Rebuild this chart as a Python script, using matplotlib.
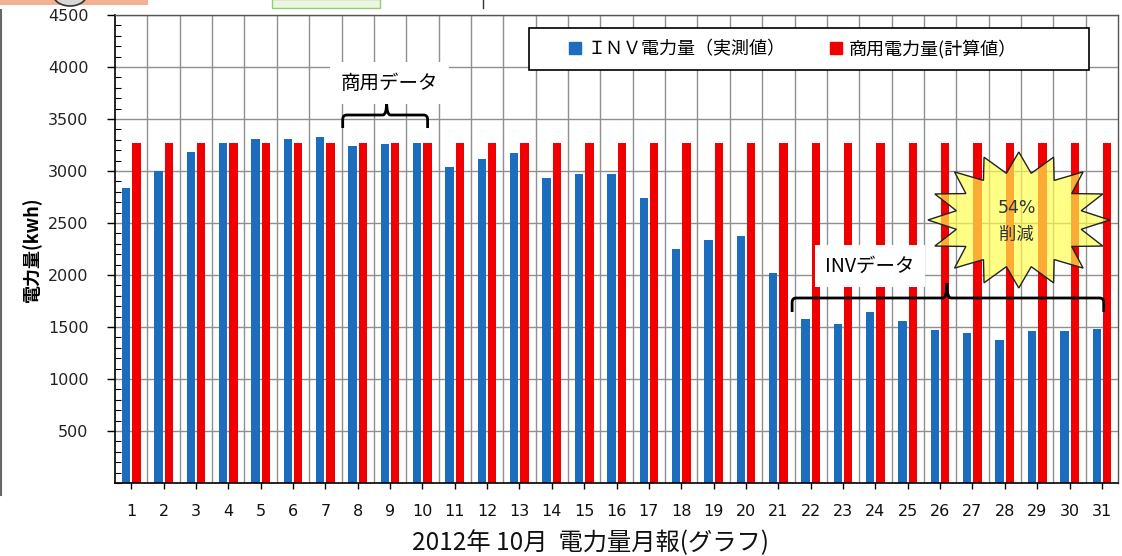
import numpy as np
import matplotlib
matplotlib.use("Agg")
import matplotlib.pyplot as plt
from matplotlib.patches import Rectangle, Polygon, PathPatch, Ellipse
from matplotlib.path import Path
from matplotlib.lines import Line2D
from matplotlib.ticker import MultipleLocator

plt.rcParams['font.family'] = ['DejaVu Sans', 'Noto Sans CJK JP']

# ---- data -------------------------------------------------------------
days = list(range(1, 32))
inv_kwh = [2840, 3000, 3185, 3265, 3305, 3305, 3325, 3245, 3255, 3265,
           3040, 3120, 3170, 2930, 2970, 2970, 2745, 2250, 2335, 2375,
           2020, 1575, 1530, 1640, 1560, 1470, 1440, 1375, 1460, 1460, 1480]
grid_kwh = [3270] * 31
y_ticks = [500, 1000, 1500, 2000, 2500, 3000, 3500, 4000, 4500]

series_labels = ["ＩＮＶ電力量（実測値）", "商用電力量(計算値）"]
title = "2012年 10月  電力量月報(グラフ)"
y_label = "電力量(kwh)"
label_grid = "商用データ"
label_inv = "INVデータ"
cut_pct = "54%"
cut_word = "削減"

BLUE = "#1c6dbd"
RED = "#f00000"
CJK = ['Noto Sans CJK JP', 'DejaVu Sans']
NARROW = ['Liberation Sans Narrow', 'DejaVu Sans']

fig = plt.figure(figsize=(11.22, 5.56), dpi=100)
ax = fig.add_axes([0.1025, 0.1313, 0.894, 0.8417])

x = np.array(days, dtype=float)
ax.bar(x - 0.16, inv_kwh, width=0.26, color=BLUE, zorder=2)
ax.bar(x + 0.16, grid_kwh, width=0.26, color=RED, zorder=2)

ax.set_xlim(0.5, 31.5)
ax.set_ylim(0, 4500)

# ticks
ax.set_xticks(days)
ax.set_xticklabels([str(d) for d in days], fontsize=11.5, family=NARROW,
                   color='#111111')
ax.set_xticks(np.arange(1.5, 31.0, 1.0), minor=True)
ax.tick_params(axis='x', which='major', direction='out', length=4, width=1,
               pad=11, color='black')
ax.tick_params(axis='x', which='minor', length=0)

ax.set_yticks(y_ticks)
ax.set_yticklabels([str(v) for v in y_ticks], fontsize=11.5, color='#222222')
ax.yaxis.set_minor_locator(MultipleLocator(100))
ax.tick_params(axis='y', which='major', direction='out', length=6, width=1,
               pad=13)
ax.tick_params(axis='y', which='minor', direction='in', length=4, width=0.8)

# grid
ax.set_axisbelow(True)
ax.yaxis.grid(True, which='major', color='#8f8f8f', lw=1.0)
ax.xaxis.grid(True, which='minor', color='#8f8f8f', lw=1.0)

for side in ('left', 'bottom'):
    ax.spines[side].set_color('black')
    ax.spines[side].set_linewidth(1.2)
for side in ('top', 'right'):
    ax.spines[side].set_color('#555555')
    ax.spines[side].set_linewidth(1.0)

ax.set_ylabel(y_label, fontsize=13, fontweight='bold', family=CJK)
ax.yaxis.set_label_coords(-0.0727, 0.5)

fig.text(590 / 1122, 1 - 543 / 556, title, fontsize=17.5, family=CJK,
         ha='center', va='center', color='#111111')

# legend with boxed frame
ax.add_patch(Rectangle((0.413, 0.8825), 0.558, 0.09, transform=ax.transAxes,
                       facecolor='white', edgecolor='black', lw=1.2, zorder=4))
handles = [Line2D([], [], marker='s', color=BLUE, linestyle='None', markersize=8),
           Line2D([], [], marker='s', color=RED, linestyle='None', markersize=8)]
leg = ax.legend(handles, series_labels, loc='center left',
                bbox_to_anchor=(0.451, 0.927), ncol=2, frameon=False,
                borderaxespad=0, borderpad=0, handlelength=0.8,
                handletextpad=0.3, columnspacing=2.4,
                prop={'family': CJK, 'size': 13})
leg.set_zorder(5)


def px_to_x(px):
    return (px - 115) / 32.4 + 0.5


def py_to_y(py):
    return (483 - py) / 0.104


def brace(x0, x1, xm, y_h, y_end, y_peak, rx=0.12, ry=45):
    verts = [(x0, y_end), (x0, y_h - ry), (x0, y_h), (x0 + rx, y_h),
             (xm - rx, y_h), (xm, y_h), (xm, y_peak),
             (xm, y_h), (xm + rx, y_h),
             (x1 - rx, y_h), (x1, y_h), (x1, y_h - ry), (x1, y_end)]
    codes = [Path.MOVETO, Path.LINETO, Path.CURVE3, Path.CURVE3,
             Path.LINETO, Path.CURVE3, Path.CURVE3,
             Path.CURVE3, Path.CURVE3,
             Path.LINETO, Path.CURVE3, Path.CURVE3, Path.LINETO]
    ax.add_patch(PathPatch(Path(verts, codes), facecolor='none',
                           edgecolor='black', lw=2.0, zorder=6))


# bracket over the grid-power days
brace(px_to_x(343), px_to_x(428), px_to_x(387),
      py_to_y(115), py_to_y(128), py_to_y(102))
ax.text(px_to_x(390), py_to_y(83), label_grid, fontsize=14, family=CJK,
        ha='center', va='center', zorder=6,
        bbox=dict(boxstyle='square,pad=0.55', facecolor='white',
                  edgecolor='none'))

# bracket over the inverter days
brace(px_to_x(793), px_to_x(1105), px_to_x(948),
      py_to_y(298), py_to_y(312), py_to_y(283))
ax.text(px_to_x(871), py_to_y(266), label_inv, fontsize=14, family=CJK,
        ha='center', va='center', zorder=6,
        bbox=dict(boxstyle='square,pad=0.55', facecolor='white',
                  edgecolor='none'))

# starburst callout
cx, cy = px_to_x(1020), py_to_y(220)
rx_out, ry_out = 91 / 32.4, 68 / 0.104
n_pts = 16
star = []
for k in range(2 * n_pts):
    ang = np.pi / 2 + k * np.pi / n_pts
    r = 1.0 if k % 2 == 0 else 0.70
    star.append((cx + r * rx_out * np.cos(ang), cy + r * ry_out * np.sin(ang)))
ax.add_patch(Polygon(star, closed=True, facecolor='#ffff4d', alpha=0.68,
                     edgecolor='none', zorder=7))
ax.add_patch(Polygon(star, closed=True, facecolor='none',
                     edgecolor='#222222', lw=1.0, zorder=7))
ax.text(px_to_x(1018), py_to_y(208), cut_pct, fontsize=12.5, color='#333333',
        ha='center', va='center', zorder=8)
ax.text(px_to_x(1018), py_to_y(235), cut_word, fontsize=12.5, color='#333333',
        family=CJK, ha='center', va='center', zorder=8)

# page-edge decorations
W, H = 1122, 556
fig.patches.append(Rectangle((0, 1 - 5 / H), 148 / W, 5 / H,
                             transform=fig.transFigure, facecolor='#f4b092',
                             edgecolor='none'))
fig.patches.append(Ellipse((70 / W, 1 + 6 / H), 34 / W, 24 / H,
                           transform=fig.transFigure, facecolor='#d8d8d8',
                           edgecolor='#333333', lw=1.2))
fig.patches.append(Rectangle((272 / W, 1 - 8 / H), 108 / W, 9 / H,
                             transform=fig.transFigure, facecolor='#eaf6e2',
                             edgecolor='#8fd070', lw=1.0))
fig.lines.append(Line2D([483 / W, 483 / W], [1 - 8 / H, 1.0],
                        transform=fig.transFigure, color='#333333', lw=1.0))
fig.lines.append(Line2D([1 / W, 1 / W], [1 - 495 / H, 1 - 10 / H],
                        transform=fig.transFigure, color='#666666', lw=1.5))

fig.savefig("out.png", dpi=100)
